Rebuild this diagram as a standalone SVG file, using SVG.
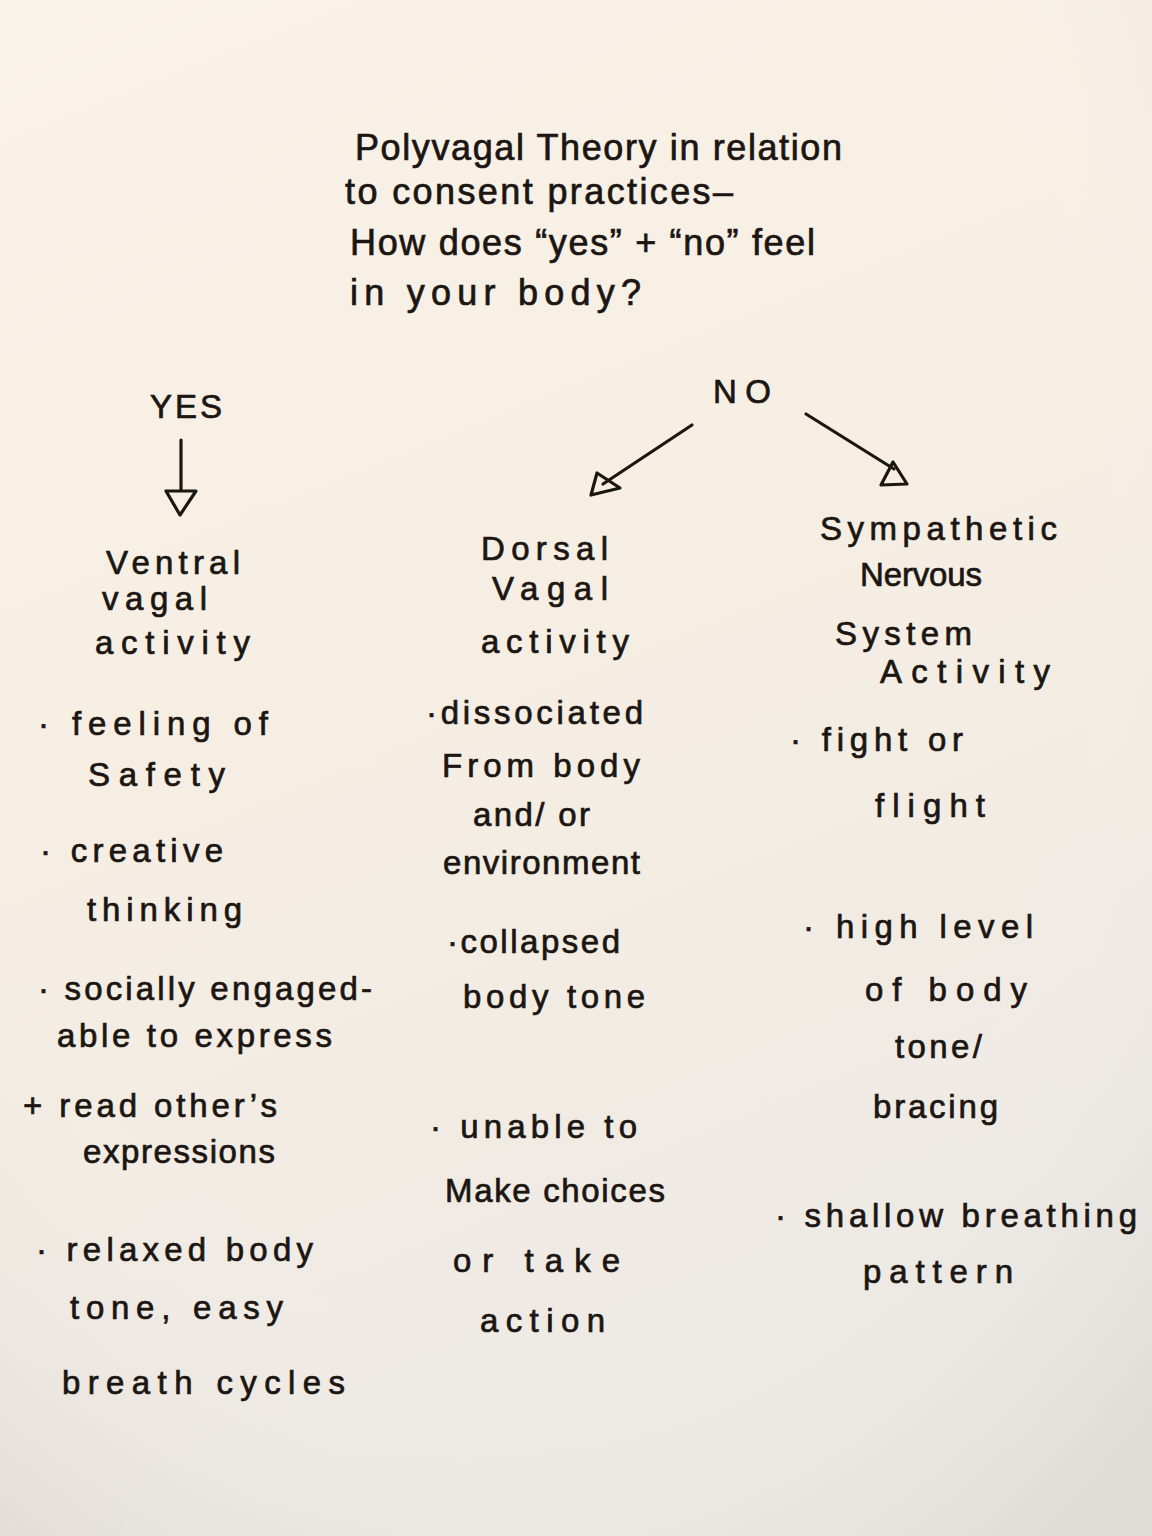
<svg xmlns="http://www.w3.org/2000/svg" width="1152" height="1536" viewBox="0 0 1152 1536">
<defs>
<linearGradient id="paper" x1="0" y1="0" x2="0.3" y2="1">
<stop offset="0" stop-color="#f9f2e8"/>
<stop offset="0.5" stop-color="#f6eee3"/>
<stop offset="1" stop-color="#ede9e4"/>
</linearGradient>
<radialGradient id="vig" cx="0.45" cy="0.35" r="0.8">
<stop offset="0.6" stop-color="#ffffff" stop-opacity="0"/>
<stop offset="1" stop-color="#b8b2aa" stop-opacity="0.25"/>
</radialGradient>
<style>
text{font-family:"Liberation Sans","DejaVu Sans",sans-serif;font-size:33px;fill:#1c1612;stroke:#1c1612;stroke-width:0.7px}
.t{font-size:36px}
.conn{fill:none;stroke:#1c1612;stroke-width:3.2;stroke-linecap:round;stroke-linejoin:round}
</style>
</defs>
<rect width="1152" height="1536" fill="url(#paper)"/>
<rect width="1152" height="1536" fill="url(#vig)"/>

<g id="title">
<text class="t" x="355" y="160" textLength="487" lengthAdjust="spacing">Polyvagal Theory in relation</text>
<text class="t" x="345" y="204" textLength="388" lengthAdjust="spacing">to consent practices–</text>
<text class="t" x="350" y="255" textLength="465" lengthAdjust="spacing">How does “yes” + “no” feel</text>
<text class="t" x="350" y="305" textLength="291" lengthAdjust="spacing">in your body?</text>
</g>

<g id="yes"><text x="150" y="418" textLength="72" lengthAdjust="spacing">YES</text></g>
<g id="no"><text x="713" y="403" textLength="58" lengthAdjust="spacing">NO</text></g>

<g id="connectors">
<path class="conn" d="M181 440 L181 490"/>
<path class="conn" d="M166 491 L196 491 L180 515 Z"/>
<path class="conn" d="M692 425 L603 484"/>
<path class="conn" d="M591 495 L597 473 L620 488 Z"/>
<path class="conn" d="M806 414 L894 469"/>
<path class="conn" d="M881 485 L907 484 L893 462 Z"/>
</g>

<g id="ventral">
<text x="106" y="574" textLength="134" lengthAdjust="spacing">Ventral</text>
<text x="102" y="610" textLength="105" lengthAdjust="spacing">vagal</text>
<text x="95" y="654" textLength="155" lengthAdjust="spacing">activity</text>
<text x="38" y="735" textLength="230" lengthAdjust="spacing">· feeling of</text>
<text x="88" y="786" textLength="137" lengthAdjust="spacing">Safety</text>
<text x="40" y="862" textLength="183" lengthAdjust="spacing">· creative</text>
<text x="87" y="921" textLength="155" lengthAdjust="spacing">thinking</text>
<text x="38" y="1000" textLength="334" lengthAdjust="spacing">· socially engaged-</text>
<text x="57" y="1047" textLength="275" lengthAdjust="spacing">able to express</text>
<text x="23" y="1117" textLength="254" lengthAdjust="spacing">+ read other’s</text>
<text x="83" y="1163" textLength="192" lengthAdjust="spacing">expressions</text>
<text x="36" y="1261" textLength="277" lengthAdjust="spacing">· relaxed body</text>
<text x="70" y="1319" textLength="213" lengthAdjust="spacing">tone, easy</text>
<text x="62" y="1394" textLength="283" lengthAdjust="spacing">breath cycles</text>
</g>

<g id="dorsal">
<text x="481" y="560" textLength="127" lengthAdjust="spacing">Dorsal</text>
<text x="492" y="600" textLength="116" lengthAdjust="spacing">Vagal</text>
<text x="481" y="653" textLength="148" lengthAdjust="spacing">activity</text>
<text x="426" y="724" textLength="217" lengthAdjust="spacing">·dissociated</text>
<text x="442" y="777" textLength="198" lengthAdjust="spacing">From body</text>
<text x="473" y="826" textLength="117" lengthAdjust="spacing">and/ or</text>
<text x="443" y="874" textLength="197" lengthAdjust="spacing">environment</text>
<text x="447" y="953" textLength="173" lengthAdjust="spacing">·collapsed</text>
<text x="463" y="1008" textLength="182" lengthAdjust="spacing">body tone</text>
<text x="430" y="1138" textLength="207" lengthAdjust="spacing">· unable to</text>
<text x="445" y="1202" textLength="220" lengthAdjust="spacing">Make choices</text>
<text x="453" y="1272" textLength="167" lengthAdjust="spacing">or take</text>
<text x="480" y="1332" textLength="125" lengthAdjust="spacing">action</text>
</g>

<g id="sympathetic">
<text x="820" y="540" textLength="237" lengthAdjust="spacing">Sympathetic</text>
<text x="860" y="586" textLength="122" lengthAdjust="spacing">Nervous</text>
<text x="835" y="645" textLength="137" lengthAdjust="spacing">System</text>
<text x="880" y="683" textLength="170" lengthAdjust="spacing">Activity</text>
<text x="790" y="751" textLength="173" lengthAdjust="spacing">· fight or</text>
<text x="875" y="817" textLength="110" lengthAdjust="spacing">flight</text>
<text x="803" y="938" textLength="230" lengthAdjust="spacing">· high level</text>
<text x="865" y="1001" textLength="162" lengthAdjust="spacing">of body</text>
<text x="895" y="1058" textLength="87" lengthAdjust="spacing">tone/</text>
<text x="873" y="1118" textLength="125" lengthAdjust="spacing">bracing</text>
<text x="775" y="1227" textLength="362" lengthAdjust="spacing">· shallow breathing</text>
<text x="863" y="1283" textLength="150" lengthAdjust="spacing">pattern</text>
</g>
</svg>
